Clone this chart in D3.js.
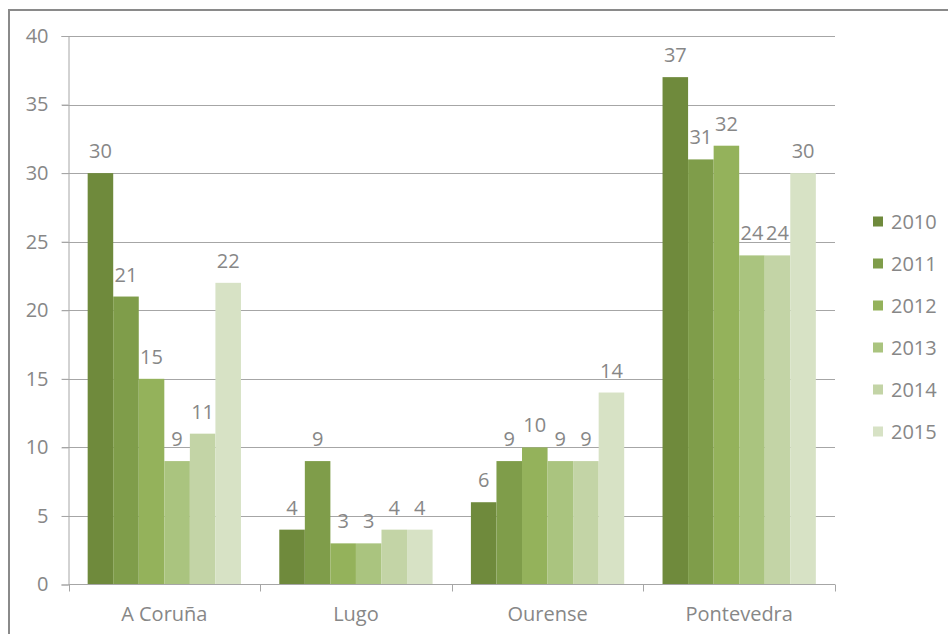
<!DOCTYPE html>
<html>
<head>
<meta charset="utf-8">
<script src="https://cdn.jsdelivr.net/npm/d3@7"></script>
<style>
  html, body { margin: 0; padding: 0; background: #fff; }
  svg { display: block; }
  text { font-family: "Open Sans", "Liberation Sans", sans-serif; fill: #878787; }
</style>
</head>
<body>
<svg id="chart" width="948" height="634"></svg>
<script>
const categories = ["A Coruña", "Lugo", "Ourense", "Pontevedra"];
const seriesNames = ["2010", "2011", "2012", "2013", "2014", "2015"];
const values2010 = [30, 4, 6, 37];
const values2011 = [21, 9, 9, 31];
const values2012 = [15, 3, 10, 32];
const values2013 = [9, 3, 9, 24];
const values2014 = [11, 4, 9, 24];
const values2015 = [22, 4, 14, 30];
const yTicks = [0, 5, 10, 15, 20, 25, 30, 35, 40];
const colors = ["#6f8a3c", "#7f9d4a", "#94b25b", "#aac47f", "#c3d4a6", "#d7e2c5"];

const seriesValues = [values2010, values2011, values2012, values2013, values2014, values2015];
const fs = 20;

const svg = d3.select("#chart");

// outer frame
svg.append("rect")
  .attr("x", 9).attr("y", 10)
  .attr("width", 960).attr("height", 660)
  .attr("fill", "none").attr("stroke", "#8a8a8a").attr("stroke-width", 2);

const plotLeft = 68.5, plotRight = 835, plotTop = 36, plotBottom = 584.5;

const x = d3.scaleBand().domain(categories).range([plotLeft, plotRight]).padding(0);
const bw = x.bandwidth();
const xi = d3.scaleBand().domain(seriesNames).range([bw * 0.1, bw * 0.9]).padding(0);
const y = d3.scaleLinear().domain([0, 40]).range([plotBottom, plotTop]);

// gridlines
svg.append("g").selectAll("line").data(yTicks.filter(t => t > 0)).join("line")
  .attr("x1", 62).attr("x2", plotRight)
  .attr("y1", d => Math.round(y(d)) + 0.5).attr("y2", d => Math.round(y(d)) + 0.5)
  .attr("stroke", "#a6a6a6").attr("stroke-width", 1);

// y axis
const yAxis = svg.append("g").attr("transform", `translate(${plotLeft},0)`)
  .call(d3.axisLeft(y).tickValues(yTicks).tickSize(7).tickPadding(13));
yAxis.select(".domain").attr("stroke", "#a6a6a6");
yAxis.selectAll(".tick line").attr("stroke", "#a6a6a6");
yAxis.selectAll(".tick text").attr("font-size", fs).attr("fill", "#878787")
  .style("font-family", '"Open Sans", sans-serif');

// bars
const groups = svg.append("g").selectAll("g").data(categories).join("g")
  .attr("transform", d => `translate(${x(d)},0)`);

groups.each(function(cat, ci) {
  const g = d3.select(this);
  seriesNames.forEach((s, si) => {
    const v = seriesValues[si][ci];
    g.append("rect")
      .attr("x", xi(s)).attr("width", xi.bandwidth())
      .attr("y", y(v)).attr("height", y(0) - y(v))
      .attr("fill", colors[si]);
  });
});

// x axis
const xAxis = svg.append("g").attr("transform", `translate(0,${plotBottom})`);
xAxis.append("line").attr("x1", plotLeft).attr("x2", plotRight).attr("y1", 0).attr("y2", 0)
  .attr("stroke", "#a6a6a6");
const boundaries = categories.map(c => x(c)).concat([x(categories[categories.length - 1]) + bw]);
xAxis.selectAll("line.tk").data(boundaries).join("line").attr("class", "tk")
  .attr("x1", d => Math.round(d) + 0.5).attr("x2", d => Math.round(d) + 0.5)
  .attr("y1", 0).attr("y2", 7).attr("stroke", "#a6a6a6");
xAxis.selectAll("text").data(categories).join("text")
  .attr("x", d => x(d) + bw / 2).attr("y", 36)
  .attr("text-anchor", "middle").attr("font-size", fs)
  .text(d => d);

// data labels
groups.each(function(cat, ci) {
  const g = d3.select(this);
  seriesNames.forEach((s, si) => {
    const v = seriesValues[si][ci];
    g.append("text")
      .attr("x", xi(s) + xi.bandwidth() / 2)
      .attr("y", y(v) - 15)
      .attr("text-anchor", "middle").attr("font-size", fs)
      .text(v);
  });
});

// legend
const legend = svg.append("g").selectAll("g").data(seriesNames).join("g")
  .attr("transform", (d, i) => `translate(873,${221.5 + i * 42})`);
legend.append("rect").attr("x", 0).attr("y", -5).attr("width", 10).attr("height", 10)
  .attr("fill", (d, i) => colors[i]);
legend.append("text").attr("x", 18).attr("y", 0).attr("dy", "0.35em")
  .attr("font-size", fs).text(d => d);
</script>
</body>
</html>
